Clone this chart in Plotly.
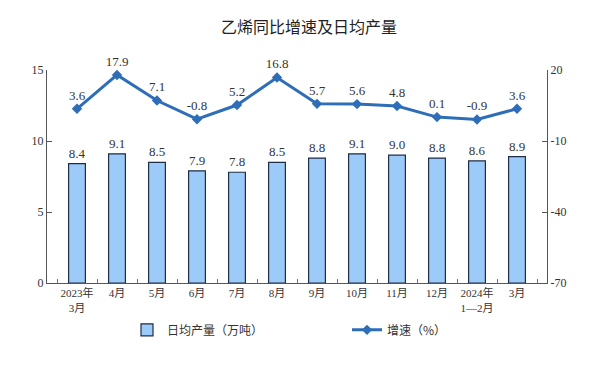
import plotly.graph_objects as go

categories = ["2023年<br>3月", "4月", "5月", "6月", "7月", "8月", "9月", "10月", "11月", "12月", "2024年<br>1—2月", "3月"]
output = [8.4, 9.1, 8.5, 7.9, 7.8, 8.5, 8.8, 9.1, 9.0, 8.8, 8.6, 8.9]
growth = [3.6, 17.9, 7.1, -0.8, 5.2, 16.8, 5.7, 5.6, 4.8, 0.1, -0.9, 3.6]
left_ticks = [0, 5, 10, 15]
right_ticks = [-70, -40, -10, 20]

serif = "Liberation Serif, Times New Roman, Noto Sans CJK SC, serif"
cjk = "Noto Sans CJK SC, sans-serif"
line_color = "#2E6DB8"

fig = go.Figure()
fig.add_trace(go.Bar(
    x=categories, y=output, name="日均产量（万吨）",
    marker=dict(color="#9CCBFA", line=dict(color="#1F2D45", width=1.2)),
    width=0.42,
    text=[f"{v:.1f}" for v in output], textposition="outside",
    textfont=dict(family=serif, size=13, color="#333333"),
    cliponaxis=False,
    yaxis="y", legend="legend",
))
fig.add_trace(go.Scatter(
    x=categories, y=growth, name="增速（%）",
    mode="lines+markers+text",
    line=dict(color=line_color, width=3),
    marker=dict(symbol="diamond", size=8, color=line_color),
    text=[f"{v:.1f}" for v in growth], textposition="top center",
    textfont=dict(family=serif, size=13, color="#333333"),
    cliponaxis=False,
    yaxis="y2", legend="legend2",
))

legend_common = dict(orientation="h", xanchor="left", yanchor="middle",
                     font=dict(family=cjk, size=12, color="#333333"), itemwidth=30,
                     bgcolor="rgba(0,0,0,0)")

fig.update_layout(
    width=600, height=370,
    margin=dict(l=47, r=53, t=70, b=87, autoexpand=False),
    paper_bgcolor="white", plot_bgcolor="white",
    title=dict(text="乙烯同比增速及日均产量", x=0.515, xanchor="center", y=0.925, yanchor="middle",
               font=dict(family=cjk, size=16, color="#222222")),
    showlegend=True,
    legend=dict(x=0.16, y=-0.22, **legend_common),
    legend2=dict(x=0.60, y=-0.22, **legend_common),
    xaxis=dict(
        type="category", showline=True, linecolor="#555555", linewidth=1,
        ticks="inside", tickson="boundaries", ticklen=4, tickcolor="#777777",
        tickfont=dict(family=serif, size=11, color="#333333"), tickangle=0,
        showgrid=False, mirror=False,
    ),
    yaxis=dict(
        range=[0, 15], tickvals=left_ticks, ticktext=[str(v) for v in left_ticks],
        showline=True, linecolor="#555555", linewidth=1,
        ticks="inside", ticklen=5, tickcolor="#555555", showgrid=False, zeroline=False,
        tickfont=dict(family=serif, size=12, color="#333333"),
    ),
    yaxis2=dict(
        range=[-70, 20], tickvals=right_ticks, ticktext=[str(v) for v in right_ticks],
        overlaying="y", side="right",
        showline=True, linecolor="#555555", linewidth=1,
        ticks="inside", ticklen=5, tickcolor="#555555", showgrid=False, zeroline=False,
        tickfont=dict(family=serif, size=12, color="#333333"),
    ),
)

fig.write_html("out.html", config={"displayModeBar": False},
               post_script="document.body.style.margin='0';document.body.style.overflow='hidden';")
